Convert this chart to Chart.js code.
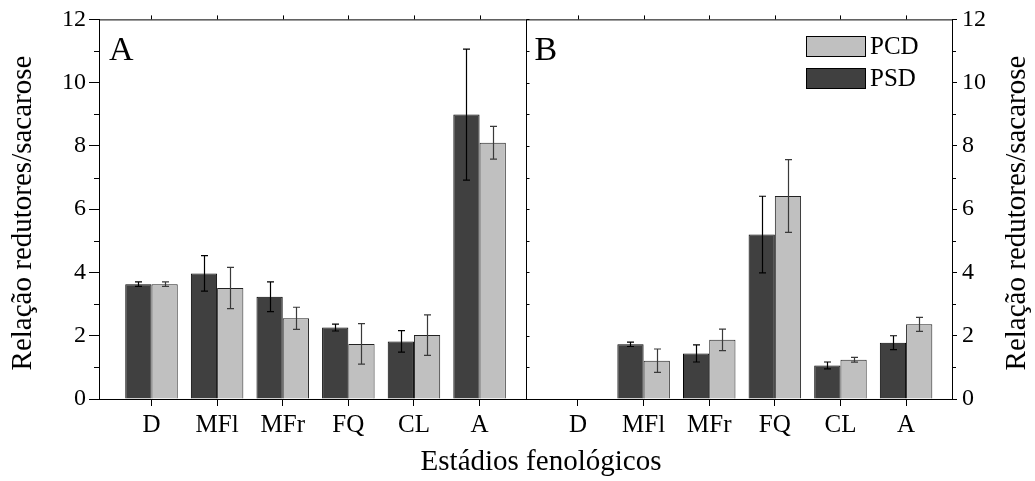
<!DOCTYPE html>
<html>
<head>
<meta charset="utf-8">
<script src="https://cdn.jsdelivr.net/npm/chart.js@4.4.1/dist/chart.umd.min.js"></script>
<style>
  body { margin: 0; background: #fff; }
</style>
</head>
<body>
<canvas id="myChart" width="1035" height="481"></canvas>
<script>
//----DATA----
const stages = ['D', 'MFl', 'MFr', 'FQ', 'CL', 'A'];
// panel A
const psdA    = [3.63, 3.97, 3.23, 2.26, 1.82, 8.99];
const psdAErr = [0.07, 0.56, 0.47, 0.11, 0.34, 2.07];
const pcdA    = [3.63, 3.51, 2.55, 1.74, 2.02, 8.10];
const pcdAErr = [0.07, 0.65, 0.35, 0.64, 0.64, 0.52];
// panel B (no D value)
const psdB    = [null, 1.73, 1.44, 5.20, 1.06, 1.78];
const psdBErr = [0,    0.07, 0.27, 1.21, 0.11, 0.22];
const pcdB    = [null, 1.21, 1.87, 6.42, 1.24, 2.36];
const pcdBErr = [0,    0.37, 0.34, 1.15, 0.075, 0.22];

const panelBShift = 6.5;   // panel B sits after panel A on the same x axis
const divider = 6.7;       // x value of the line between the panels
const xA = stages.map((s, i) => i + 1);
const xB = stages.map((s, i) => i + 1 + panelBShift);

const FONT = "'Liberation Serif', 'Times New Roman', serif";
Chart.defaults.font.family = FONT;
Chart.defaults.color = '#000';

function toPoints(xs, a, b) {
  return xs.map((x, i) => ({ x: x, y: a[i] })).concat(xB.map((x, i) => ({ x: x, y: b[i] })));
}
function stageLabel(v) {
  const i = v <= divider ? Math.round(v - 1) : Math.round(v - 1 - panelBShift);
  return stages[i] || '';
}

const data = {
  datasets: [
    {
      label: 'PSD',
      data: toPoints(xA, psdA, psdB),
      errors: psdAErr.concat(psdBErr),
      errColor: '#000',
      backgroundColor: '#404040',
      borderColor: '#000',
      borderWidth: 1
    },
    {
      label: 'PCD',
      data: toPoints(xA, pcdA, pcdB),
      errors: pcdAErr.concat(pcdBErr),
      errColor: '#3a3a3a',
      backgroundColor: '#c0c0c0',
      borderColor: '#222',
      borderWidth: 1
    }
  ]
};

//----PLUGINS----
const errorBars = {
  id: 'errorBars',
  afterDatasetsDraw(chart) {
    const { ctx, scales: { y } } = chart;
    chart.data.datasets.forEach((ds, di) => {
      const meta = chart.getDatasetMeta(di);
      ctx.save();
      ctx.strokeStyle = ds.errColor;
      ctx.lineWidth = 1.2;
      meta.data.forEach((bar, i) => {
        const v = ds.data[i].y;
        if (v == null) return;
        const e = ds.errors[i];
        const y1 = y.getPixelForValue(v + e), y2 = y.getPixelForValue(v - e);
        const cx = Math.round(bar.x) + 0.5;
        ctx.beginPath();
        ctx.moveTo(cx, y1); ctx.lineTo(cx, y2);
        ctx.moveTo(cx - 3.5, y1); ctx.lineTo(cx + 3.5, y1);
        ctx.moveTo(cx - 3.5, y2); ctx.lineTo(cx + 3.5, y2);
        ctx.stroke();
      });
      ctx.restore();
    });
  }
};

const decorations = {
  id: 'decorations',
  afterDraw(chart) {
    const { ctx, chartArea: { top, bottom, left, right }, scales: { x, y } } = chart;
    ctx.save();
    ctx.strokeStyle = '#000';
    ctx.lineWidth = 1;
    const dx = Math.round(x.getPixelForValue(divider)) + 0.5;
    ctx.beginPath();
    // top frame + divider
    ctx.moveTo(left, top + 0.5); ctx.lineTo(right, top + 0.5);
    ctx.moveTo(dx, top); ctx.lineTo(dx, bottom);
    // top ticks at categories
    xA.concat(xB).forEach(v => {
      const px = Math.round(x.getPixelForValue(v)) + 0.5;
      ctx.moveTo(px, top); ctx.lineTo(px, top - 4);
    });
    // minor ticks + divider ticks
    for (let v = 0; v <= 12; v++) {
      const py = Math.round(y.getPixelForValue(v)) + 0.5;
      if (v % 2 === 1) {
        ctx.moveTo(left - 5, py); ctx.lineTo(left, py);
        ctx.moveTo(right, py); ctx.lineTo(right + 4, py);
      }
      ctx.moveTo(dx, py); ctx.lineTo(dx + 3, py);
    }
    ctx.stroke();

    // legend
    const legendItems = [['PCD', '#c0c0c0', 36], ['PSD', '#404040', 68]];
    legendItems.forEach(([name, color, ty]) => {
      ctx.fillStyle = color;
      ctx.fillRect(806, ty, 60, 21);
      ctx.strokeRect(806.5, ty + 0.5, 59, 20);
      ctx.fillStyle = '#000';
      ctx.font = '25px ' + FONT;
      ctx.textAlign = 'left';
      ctx.textBaseline = 'middle';
      ctx.fillText(name, 870, ty + 11);
    });

    // panel letters
    ctx.font = '34px ' + FONT;
    ctx.textBaseline = 'alphabetic';
    ctx.fillText('A', left + 10, 60);
    ctx.fillText('B', dx + 8, 60);

    // axis titles
    ctx.font = '29px ' + FONT;
    ctx.textAlign = 'center';
    ctx.fillText('Estádios fenológicos', 541, 470);

    ctx.textBaseline = 'middle';
    [23, 1017].forEach(tx => {
      ctx.save();
      ctx.translate(tx, 213);
      ctx.rotate(-Math.PI / 2);
      ctx.fillText('Relação redutores/sacarose', 0, 0);
      ctx.restore();
    });
    ctx.restore();
  }
};

//----CONFIG----
const config = {
  type: 'bar',
  data,
  options: {
    responsive: false,
    animation: false,
    layout: { padding: { top: 19, left: 0, right: 0, bottom: 0 } },
    datasets: { bar: { categoryPercentage: 0.8, barPercentage: 1.0 } },
    scales: {
      x: {
        type: 'linear',
        offset: false,
        min: 0.2,
        max: 13.2,
        afterBuildTicks: s => { s.ticks = xA.concat(xB).map(v => ({ value: v })); },
        afterFit: s => { s.height = 82; },
        grid: { offset: false, drawOnChartArea: false, tickLength: 7, color: '#000' },
        border: { color: '#000' },
        ticks: { callback: v => stageLabel(v), font: { size: 25 }, padding: 4, maxRotation: 0, autoSkip: false }
      },
      y: {
        position: 'left',
        min: 0,
        max: 12,
        afterFit: s => { s.width = 99; },
        grid: { drawOnChartArea: false, tickLength: 10, color: '#000' },
        border: { color: '#000' },
        ticks: { stepSize: 2, font: { size: 24 }, padding: 3 }
      },
      y2: {
        position: 'right',
        min: 0,
        max: 12,
        afterFit: s => { s.width = 83; },
        grid: { drawOnChartArea: false, tickLength: 5, color: '#000' },
        border: { color: '#000' },
        ticks: { stepSize: 2, font: { size: 24 }, padding: 5 }
      }
    },
    plugins: {
      legend: { display: false },
      tooltip: { enabled: false }
    }
  },
  plugins: [errorBars, decorations]
};

const myChart = new Chart(document.getElementById('myChart'), config);
</script>
</body>
</html>
